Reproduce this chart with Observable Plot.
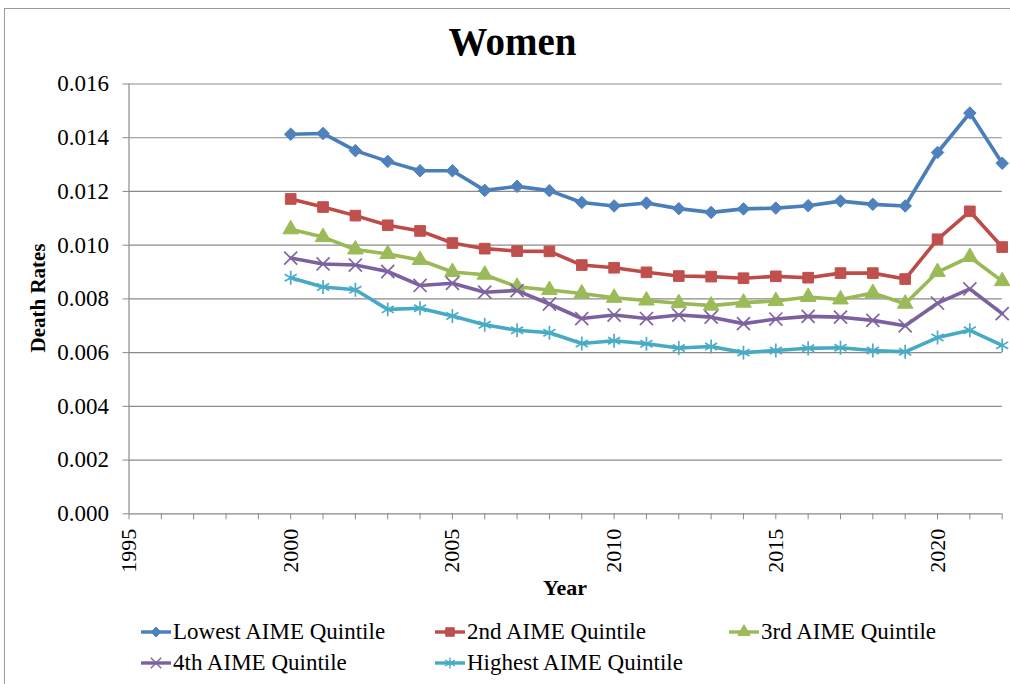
<!DOCTYPE html>
<html>
<head>
<meta charset="utf-8">
<script src="https://cdn.jsdelivr.net/npm/d3@7"></script>
<script src="https://cdn.jsdelivr.net/npm/@observablehq/plot@0.6"></script>
<style>
  html, body { margin: 0; padding: 0; background: #fff; }
  #wrap { position: relative; width: 1010px; height: 684px; overflow: hidden; font-family: "Liberation Serif", "Times New Roman", serif; color: #000; }
  #border { position: absolute; left: 4px; top: 8px; width: 1100px; height: 800px; border-left: 1px solid #9a9a9a; border-top: 1px solid #9a9a9a; }
  #title { position: absolute; left: 0; width: 1025px; top: 16px; text-align: center; font-weight: bold; font-size: 39px; line-height: 52px; }
  #ylabel { position: absolute; left: 38px; top: 298px; transform: translate(-50%, -50%) rotate(-90deg); font-weight: bold; font-size: 21px; white-space: nowrap; }
  #xlabel { position: absolute; left: 565px; top: 588px; transform: translate(-50%, -50%); font-weight: bold; font-size: 22px; white-space: nowrap; }
  .leg { position: absolute; display: flex; align-items: center; font-size: 23px; white-space: nowrap; }
  .leg svg { margin-right: 1px; }
  #plot { position: absolute; left: 0; top: 0; }
</style>
</head>
<body>
<div id="wrap">
  <div id="border"></div>
  <div id="plot"></div>
  <div id="title">Women</div>
  <div id="ylabel">Death Rates</div>
  <div id="xlabel">Year</div>
  <div id="legend"></div>
</div>
<script>
// ---- data ----
const years = [2000,2001,2002,2003,2004,2005,2006,2007,2008,2009,2010,2011,2012,2013,2014,2015,2016,2017,2018,2019,2020,2021,2022];
const lowest  = [0.01413,0.01416,0.01352,0.01312,0.01277,0.01277,0.01204,0.01219,0.01203,0.01159,0.01146,0.01157,0.01136,0.01122,0.01135,0.01138,0.01147,0.01164,0.01152,0.01146,0.01345,0.01492,0.01305];
const second  = [0.01172,0.01142,0.01110,0.01074,0.01053,0.01008,0.00987,0.00978,0.00977,0.00926,0.00916,0.00899,0.00885,0.00883,0.00877,0.00884,0.00879,0.00896,0.00896,0.00874,0.01022,0.01126,0.00993];
const third   = [0.01059,0.01030,0.00984,0.00967,0.00945,0.00900,0.00890,0.00845,0.00833,0.00820,0.00804,0.00794,0.00784,0.00775,0.00786,0.00792,0.00807,0.00798,0.00822,0.00782,0.00900,0.00956,0.00866];
const fourth  = [0.00952,0.00930,0.00926,0.00902,0.00850,0.00858,0.00825,0.00831,0.00781,0.00727,0.00740,0.00727,0.00740,0.00732,0.00708,0.00725,0.00735,0.00732,0.00720,0.00700,0.00784,0.00837,0.00745];
const highest = [0.00879,0.00844,0.00834,0.00761,0.00765,0.00736,0.00704,0.00683,0.00674,0.00634,0.00644,0.00633,0.00617,0.00623,0.00600,0.00608,0.00616,0.00618,0.00608,0.00603,0.00656,0.00683,0.00627];
const seriesNames = ["Lowest AIME Quintile","2nd AIME Quintile","3rd AIME Quintile","4th AIME Quintile","Highest AIME Quintile"];
const yTicks = [0,0.002,0.004,0.006,0.008,0.010,0.012,0.014,0.016];
const xLabelTicks = [1995,2000,2005,2010,2015,2020];
const xMinorTicks = d3.range(1995, 2023);

// ---- styles ----
const lineColors = ["#4A7EBB","#BE4B48","#98B954","#7D60A0","#46AAC5"];
const markColors = ["#4F81BD","#C0504D","#9BBB59","#8064A2","#4BACC6"];
const diamondSym = { draw(ctx, size) { const h = Math.sqrt(size / 2); ctx.moveTo(0,-h); ctx.lineTo(h,0); ctx.lineTo(0,h); ctx.lineTo(-h,0); ctx.closePath(); } };
const symbols = [diamondSym, "square", "triangle", "times", "asterisk"];
const radii = [5.0, 6.0, 5.8, 6.0, 6.6];
const filled = [true, true, true, false, false];

const seriesValues = [lowest, second, third, fourth, highest];
const rows = seriesValues.flatMap((vals, s) => vals.map((v, i) => ({series: seriesNames[s], idx: s, year: years[i], value: v})));

const marks = [
  Plot.gridY(yTicks.filter(d => d > 0), {stroke: "#8a8a8a", strokeOpacity: 1, strokeWidth: 1.2}),
  Plot.ruleY([0], {stroke: "#8a8a8a", strokeWidth: 1.2}),
  Plot.ruleX([1995], {y1: 0, y2: 0.016, stroke: "#8a8a8a", strokeWidth: 1.2}),
  Plot.axisY({ticks: yTicks, tickFormat: d3.format(".3f"), tickSize: 6, tickPadding: 14, stroke: "#8a8a8a", fontSize: 23, label: null}),
  Plot.axisX({ticks: xMinorTicks, tickSize: 6, tickFormat: () => "", stroke: "#8a8a8a", label: null}),
  Plot.axisX({ticks: xLabelTicks, tickSize: 0, tickPadding: 15, tickRotate: -90, tickFormat: d3.format("d"), fontSize: 22, label: null})
];
seriesNames.forEach((name, s) => {
  const data = rows.filter(d => d.idx === s);
  marks.push(Plot.line(data, {x: "year", y: "value", stroke: lineColors[s], strokeWidth: 3.6}));
  marks.push(Plot.dot(data, filled[s]
    ? {x: "year", y: "value", symbol: () => symbols[s], r: radii[s], fill: markColors[s], stroke: markColors[s], strokeWidth: 1}
    : {x: "year", y: "value", symbol: () => symbols[s], r: radii[s], stroke: markColors[s], strokeWidth: 1.7, fill: "none"}));
});

const chart = Plot.plot({
  width: 1010,
  height: 684,
  marginLeft: 128.5,
  marginRight: 8.3,
  marginTop: 83.5,
  marginBottom: 170.7,
  style: {fontFamily: "'Liberation Serif', 'Times New Roman', serif", color: "#000", background: "transparent"},
  x: {domain: [1995, 2022]},
  y: {domain: [0, 0.016]},
  symbol: {type: "identity"},
  marks
});
document.getElementById("plot").appendChild(chart);

// ---- legend ----
const legPos = [[140, 632],[434, 632],[728, 632],[140, 663],[434, 663]];
const legend = document.getElementById("legend");
seriesNames.forEach((name, s) => {
  const item = document.createElement("div");
  item.className = "leg";
  item.style.left = legPos[s][0] + "px";
  item.style.top = (legPos[s][1] - 15) + "px";
  item.style.height = "30px";
  const svg = d3.create("svg").attr("width", 32).attr("height", 30);
  svg.append("line").attr("x1", 1).attr("x2", 31).attr("y1", 15).attr("y2", 15).attr("stroke", lineColors[s]).attr("stroke-width", 3.4);
  const symMap = {square: d3.symbolSquare, triangle: d3.symbolTriangle, times: d3.symbolTimes, asterisk: d3.symbolAsterisk};
  const sym = typeof symbols[s] === "string" ? symMap[symbols[s]] : symbols[s];
  const r = radii[s] * 0.8;
  svg.append("path").attr("transform", "translate(16,15)")
    .attr("d", d3.symbol(sym, Math.PI * r * r)())
    .attr("fill", filled[s] ? markColors[s] : "none")
    .attr("stroke", markColors[s]).attr("stroke-width", filled[s] ? 1 : 1.4);
  item.appendChild(svg.node());
  const span = document.createElement("span");
  span.textContent = name;
  item.appendChild(span);
  legend.appendChild(item);
});
</script>
</body>
</html>
